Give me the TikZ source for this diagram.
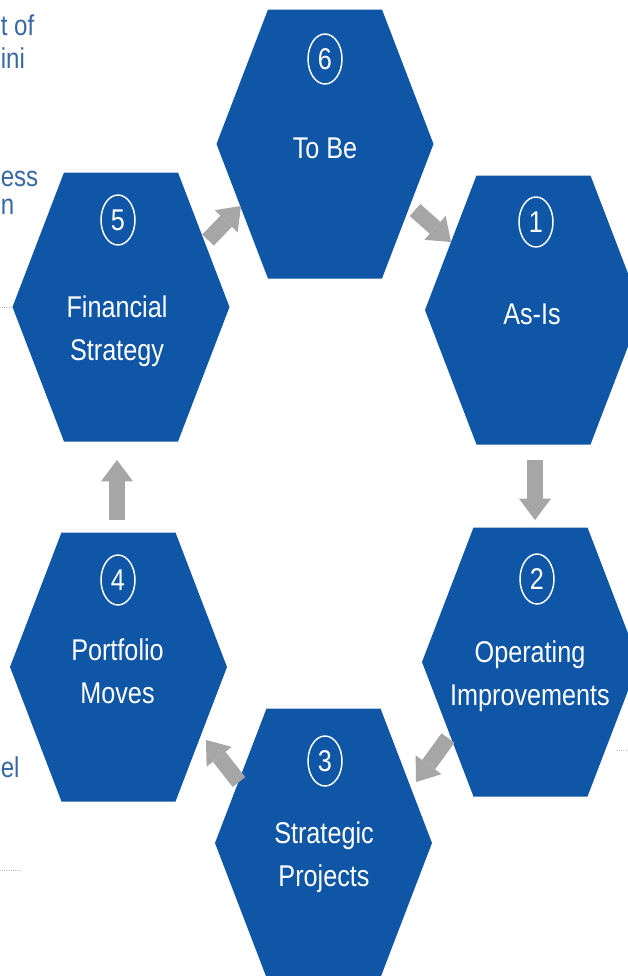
\documentclass[tikz,border=0pt]{standalone}
\usepackage{fontspec}
\setmainfont{Liberation Sans}[FakeStretch=0.84]
\usetikzlibrary{arrows.meta,shapes.geometric}

\definecolor{cellblue}{RGB}{16,86,166}
\definecolor{flowgrey}{RGB}{166,166,166}
\definecolor{sideblue}{RGB}{56,104,164}

\tikzset{
  cell/.style={fill=cellblue},
  flow/.style={draw=flowgrey, line width=12pt, -{Triangle[width=24pt,length=16pt,line width=0pt]}},
  celltext/.style={text=white, align=center, inner sep=0.75pt, font=\fontsize{22.5}{32.25}\selectfont},
  cellnum/.style={ellipse, draw=white, line width=1.1pt, minimum width=25.5pt, minimum height=37.5pt, inner sep=0pt, text=white, font=\fontsize{22.5}{27}\selectfont},
  sidetext/.style={text=sideblue, anchor=base west, inner sep=0pt, font=\fontsize{21.5}{26}\selectfont},
  cutmark/.style={draw=gray!55, densely dotted, line width=0.6pt}
}

\begin{document}
\begin{tikzpicture}[x=0.75pt,y=0.75pt,yscale=-1,xscale=1]
\path[use as bounding box, clip] (0,0) rectangle (628,976);
\fill[white] (0,0) rectangle (628,976);

%Shape: Hexagon 6
\fill[cell] (216.5,144) -- (268,9.5) -- (382,9.5) -- (433.5,144) -- (382,278.5) -- (268,278.5) -- cycle ;
%Shape: Hexagon 1
\fill[cell] (425,310) -- (476.5,175.5) -- (590.5,175.5) -- (642,310) -- (590.5,444.5) -- (476.5,444.5) -- cycle ;
%Shape: Hexagon 2
\fill[cell] (422,662) -- (473.5,527.5) -- (587.5,527.5) -- (639,662) -- (587.5,796.5) -- (473.5,796.5) -- cycle ;
%Shape: Hexagon 3
\fill[cell] (215,843) -- (266.5,708.5) -- (380.5,708.5) -- (432,843) -- (380.5,977.5) -- (266.5,977.5) -- cycle ;
%Shape: Hexagon 4
\fill[cell] (10,667) -- (61.5,532.5) -- (175.5,532.5) -- (227,667) -- (175.5,801.5) -- (61.5,801.5) -- cycle ;
%Shape: Hexagon 5
\fill[cell] (12.5,307) -- (64,172.5) -- (178,172.5) -- (229.5,307) -- (178,441.5) -- (64,441.5) -- cycle ;

% Number Nodes
\node[cellnum] (n6) at (325,59) {6};
\node[cellnum] (n1) at (536,222) {1};
\node[cellnum] (n2) at (537,579) {2};
\node[cellnum] (n3) at (325,761) {3};
\node[cellnum] (n4) at (118,580) {4};
\node[cellnum] (n5) at (118,220) {5};

% Text Node
\node[celltext, anchor=base] (l6) at (325,158) {To Be};
\node[celltext, anchor=base] (l1) at (532,324) {As-Is};
\node[celltext] (l2) at (530,676) {Operating\\Improvements};
\node[celltext] (l3) at (324,857) {Strategic\\Projects};
\node[celltext] (l4) at (117.5,671.5) {Portfolio\\Moves};
\node[celltext] (l5) at (117,331) {Financial\\Strategy};

%Straight Lines (arrow ends)
\coordinate (s56) at (208,240);  \coordinate (e56) at (241,206);
\coordinate (s61) at (415,210);  \coordinate (e61) at (451,242);
\coordinate (s12) at (535,460);  \coordinate (e12) at (535,520);
\coordinate (s23) at (448,738);  \coordinate (e23) at (416,782);
\coordinate (s34) at (239,782);  \coordinate (e34) at (206,740);
\coordinate (s45) at (117,520);  \coordinate (e45) at (117,460);

\draw[flow] (s56) -- (e56) ;
\draw[flow] (s61) -- (e61) ;
\draw[flow] (s12) -- (e12) ;
\draw[flow] (s23) -- (e23) ;
\draw[flow] (s34) -- (e34) ;
\draw[flow] (s45) -- (e45) ;

% Text Node (left margin)
\node[sidetext] (m1) at (0.5,35) {t of};
\node[sidetext] (m2) at (0.5,68) {ini};
\node[sidetext] (m3) at (0.5,186) {ess};
\node[sidetext] (m4) at (0.5,214) {n};
\node[sidetext] (m5) at (0.5,777) {el};

%Straight Lines (dotted leaders)
\draw[cutmark] (0,307) -- (12,307) ;
\draw[cutmark] (617,750) -- (628,750) ;
\draw[cutmark] (0,870) -- (20,870) ;

\end{tikzpicture}
\end{document}
